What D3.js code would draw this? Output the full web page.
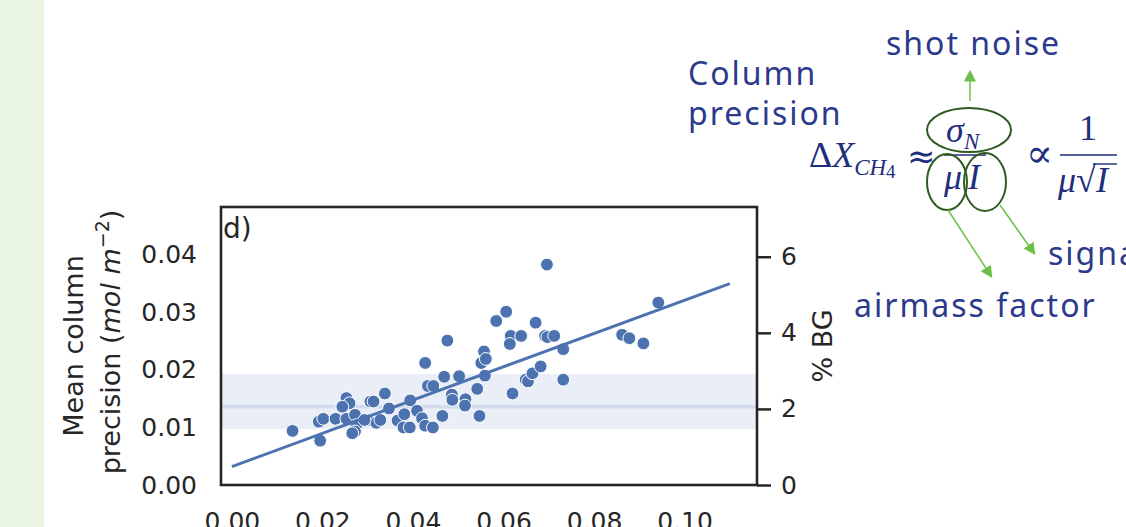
<!DOCTYPE html>
<html>
<head>
<meta charset="utf-8">
<script src="https://cdn.jsdelivr.net/npm/d3@7"></script>
<style>
  body { margin: 0; background: #fff; }
  svg { display: block; }
  .tick text { font-family: "DejaVu Sans", sans-serif; fill: #262626; }
  .note { font-family: "Noto Sans", sans-serif; fill: #2c3a8c; }
  .math { font-family: "Liberation Serif", "DejaVu Serif", serif; fill: #1f2f7e; }
</style>
</head>
<body>
<div id="chart"></div>
<script>
// ticks
const xTicks = [0, 0.02, 0.04, 0.06, 0.08, 0.10]
const yTicks = [0, 0.01, 0.02, 0.03, 0.04]
const bgTicks = [0, 2, 4, 6]
// background column (mol m-2) used for the % BG axis
const bgColumn = 0.661

// scatter: x value vs mean column precision
const precX = [0.0134, 0.0195, 0.0192, 0.0202, 0.0229, 0.0253, 0.0260, 0.0244, 0.0253, 0.0272,
  0.0275, 0.0272, 0.0266, 0.0300, 0.0306, 0.0313, 0.0319, 0.0328, 0.0338, 0.0347,
  0.0366, 0.0381, 0.0379, 0.0393, 0.0394, 0.0409, 0.0420, 0.0427, 0.0444, 0.0427,
  0.0433, 0.0445, 0.0465, 0.0469, 0.0476, 0.0486, 0.0487, 0.0502, 0.0516, 0.0515,
  0.0542, 0.0547, 0.0551, 0.0557, 0.0561, 0.0559, 0.0584, 0.0606, 0.0616, 0.0614,
  0.0639, 0.0620, 0.0649, 0.0654, 0.0664, 0.0682, 0.0671, 0.0696, 0.0692, 0.0697,
  0.0712, 0.0732, 0.0732, 0.0862, 0.0878, 0.0909, 0.0942, 0.0293]
const precY = [0.0094, 0.0077, 0.0110, 0.0115, 0.0115, 0.0151, 0.0142, 0.0136, 0.0115, 0.0122,
  0.0104, 0.0093, 0.0090, 0.0113, 0.0145, 0.0145, 0.0108, 0.0113, 0.0159, 0.0133,
  0.0112, 0.0123, 0.0100, 0.0100, 0.0147, 0.0129, 0.0116, 0.0103, 0.0100, 0.0212,
  0.0172, 0.0172, 0.0120, 0.0188, 0.0251, 0.0157, 0.0148, 0.0189, 0.0149, 0.0138,
  0.0167, 0.0120, 0.0212, 0.0232, 0.0219, 0.0190, 0.0285, 0.0301, 0.0259, 0.0245,
  0.0259, 0.0159, 0.0183, 0.0180, 0.0194, 0.0206, 0.0282, 0.0383, 0.0259, 0.0257,
  0.0259, 0.0236, 0.0183, 0.0261, 0.0255, 0.0246, 0.0317, 0.0113]

// fitted line end points
const fitX = [0, 0.11]
const fitY = [0.0032, 0.0350]
// shaded band: low, mean, high
const bandY = [0.0097, 0.0136, 0.0193]

const width = 1126
const height = 527
const blue = '#4c72b0'

let svg = d3.select('#chart')
  .append('svg')
  .attr('width', width)
  .attr('height', height)

// green strip of the slide
svg.append('rect')
  .attr('x', 0).attr('y', 0)
  .attr('width', 44).attr('height', height)
  .attr('fill', '#eaf5e2')

let x = d3.scaleLinear().domain([-0.0024, 0.116]).range([221, 757])
let y = d3.scaleLinear().domain([0, 0.0483]).range([485, 207])
let yBG = d3.scaleLinear().domain([0, 0.0483 / bgColumn * 100]).range([485, 207])

// band
svg.append('rect')
  .attr('x', x.range()[0])
  .attr('width', x.range()[1] - x.range()[0])
  .attr('y', y(bandY[2]))
  .attr('height', y(bandY[0]) - y(bandY[2]))
  .attr('fill', '#eaeef6')
svg.append('line')
  .attr('x1', x.range()[0]).attr('x2', x.range()[1])
  .attr('y1', y(bandY[1])).attr('y2', y(bandY[1]))
  .attr('stroke', '#d3dcec')
  .attr('stroke-width', 3.5)

// points
svg.append('g')
  .selectAll('circle')
  .data(precX)
  .enter()
  .append('circle')
  .attr('cx', function (d) { return x(d) })
  .attr('cy', function (d, i) { return y(precY[i]) })
  .attr('r', 6.4)
  .attr('fill', blue)
  .attr('stroke', '#fff')
  .attr('stroke-width', 1)

// regression line
svg.append('path')
  .datum(d3.zip(fitX, fitY))
  .attr('d', d3.line().x(function (d) { return x(d[0]) }).y(function (d) { return y(d[1]) }))
  .attr('stroke', blue)
  .attr('stroke-width', 2.9)
  .attr('fill', 'none')

// axes
let fmt = d3.format('.2f')
svg.append('g')
  .attr('transform', 'translate(0,485)')
  .call(d3.axisBottom(x).tickValues(xTicks).tickFormat(fmt).tickSize(0).tickPadding(27))
svg.append('g')
  .attr('transform', 'translate(221,0)')
  .call(d3.axisLeft(y).tickValues(yTicks).tickFormat(fmt).tickSize(0).tickPadding(24))
let gr = svg.append('g')
  .attr('transform', 'translate(757,0)')
  .call(d3.axisRight(yBG).tickValues(bgTicks).tickFormat(d3.format('d')).tickSize(14).tickPadding(10))
svg.selectAll('.domain').remove()
svg.selectAll('.tick text').attr('font-size', 25)
gr.selectAll('.tick line').attr('stroke', '#262626').attr('stroke-width', 2.5)

// frame
svg.append('rect')
  .attr('x', 221).attr('y', 207)
  .attr('width', 757 - 221).attr('height', 485 - 207)
  .attr('fill', 'none')
  .attr('stroke', '#262626')
  .attr('stroke-width', 2.6)

svg.append('text')
  .attr('x', 223).attr('y', 238)
  .attr('font-family', 'DejaVu Sans, sans-serif')
  .attr('font-size', 28)
  .attr('fill', '#262626')
  .text('d)')

// axis labels
svg.append('text')
  .attr('transform', 'translate(83,346) rotate(-90)')
  .attr('text-anchor', 'middle')
  .attr('font-family', 'DejaVu Sans, sans-serif')
  .attr('font-size', 27)
  .attr('fill', '#262626')
  .text('Mean column')
let lab2 = svg.append('text')
  .attr('transform', 'translate(120,342) rotate(-90)')
  .attr('text-anchor', 'middle')
  .attr('font-family', 'DejaVu Sans, sans-serif')
  .attr('font-size', 27)
  .attr('fill', '#262626')
lab2.append('tspan').text('precision (')
lab2.append('tspan').attr('font-style', 'italic').text('mol m')
lab2.append('tspan').attr('font-size', 19).attr('dy', -11).text('\u22122')
lab2.append('tspan').attr('dy', 11).text(')')

svg.append('text')
  .attr('transform', 'translate(832,346) rotate(-90)')
  .attr('text-anchor', 'middle')
  .attr('font-family', 'DejaVu Sans, sans-serif')
  .attr('font-size', 27)
  .attr('fill', '#262626')
  .text('% BG')

// annotation words
let notes = [
  ['shot noise', 886, 55],
  ['Column', 688, 85],
  ['precision', 688, 125],
  ['airmass factor', 854, 317],
  ['signal', 1048, 265]
]
svg.selectAll('.note')
  .data(notes)
  .enter()
  .append('text')
  .attr('class', 'note')
  .attr('x', function (d) { return d[1] })
  .attr('y', function (d) { return d[2] })
  .attr('font-size', 32)
  .attr('letter-spacing', 2)
  .text(function (d) { return d[0] })

// equation
let eq = svg.append('g').attr('class', 'math')
let t1 = eq.append('text').attr('x', 809).attr('y', 167).attr('font-size', 36)
t1.append('tspan').text('\u0394')
t1.append('tspan').attr('font-style', 'italic').text('X')
t1.append('tspan').attr('font-style', 'italic').attr('font-size', 23).attr('dy', 8).text('CH')
t1.append('tspan').attr('font-size', 19).attr('dy', 3).text('4')
eq.append('text').attr('x', 907).attr('y', 168).attr('font-size', 34)
  .attr('font-family', 'DejaVu Sans, sans-serif').text('\u2248')
eq.append('text').attr('x', 946).attr('y', 142).attr('font-size', 36).attr('font-style', 'italic').text('\u03c3')
eq.append('text').attr('x', 964).attr('y', 149).attr('font-size', 23).attr('font-style', 'italic').text('N')
eq.append('line').attr('x1', 944).attr('x2', 986).attr('y1', 155).attr('y2', 155)
  .attr('stroke', '#1f2f7e').attr('stroke-width', 1.6)
eq.append('text').attr('x', 944).attr('y', 189).attr('font-size', 36).attr('font-style', 'italic').text('\u03bc')
eq.append('text').attr('x', 968).attr('y', 189).attr('font-size', 36).attr('font-style', 'italic').text('I')
eq.append('text').attr('x', 1026).attr('y', 167).attr('font-size', 40)
  .attr('font-family', 'DejaVu Serif, serif').text('\u221d')
eq.append('text').attr('x', 1079).attr('y', 140).attr('font-size', 36).text('1')
eq.append('line').attr('x1', 1060).attr('x2', 1117).attr('y1', 155).attr('y2', 155)
  .attr('stroke', '#1f2f7e').attr('stroke-width', 1.6)
eq.append('text').attr('x', 1058).attr('y', 192).attr('font-size', 36).attr('font-style', 'italic').text('\u03bc')
eq.append('text').attr('x', 1076).attr('y', 192).attr('font-size', 36).text('\u221a')
eq.append('text').attr('x', 1096).attr('y', 192).attr('font-size', 36).attr('font-style', 'italic').text('I')
eq.append('line').attr('x1', 1093).attr('x2', 1117).attr('y1', 164).attr('y2', 164)
  .attr('stroke', '#1f2f7e').attr('stroke-width', 1.4)

// hand drawn circles
let ellipses = [[969, 130, 42, 22], [947, 182, 20, 28], [985, 182, 21, 29]]
svg.selectAll('.loop')
  .data(ellipses)
  .enter()
  .append('ellipse')
  .attr('class', 'loop')
  .attr('cx', function (d) { return d[0] })
  .attr('cy', function (d) { return d[1] })
  .attr('rx', function (d) { return d[2] })
  .attr('ry', function (d) { return d[3] })
  .attr('fill', 'none')
  .attr('stroke', '#2f5a20')
  .attr('stroke-width', 2)

// arrows
svg.append('defs').append('marker')
  .attr('id', 'head')
  .attr('viewBox', '0 0 10 10')
  .attr('refX', 8).attr('refY', 5)
  .attr('markerWidth', 12).attr('markerHeight', 12)
  .attr('markerUnits', 'userSpaceOnUse')
  .attr('orient', 'auto')
  .append('path')
  .attr('d', 'M0,0 L10,5 L0,10 Z')
  .attr('fill', '#6cc04a')
let arrows = [[970, 101, 970, 72], [948, 210, 991, 276], [1000, 205, 1034, 253]]
svg.selectAll('.arrow')
  .data(arrows)
  .enter()
  .append('line')
  .attr('class', 'arrow')
  .attr('x1', function (d) { return d[0] })
  .attr('y1', function (d) { return d[1] })
  .attr('x2', function (d) { return d[2] })
  .attr('y2', function (d) { return d[3] })
  .attr('stroke', '#6cc04a')
  .attr('stroke-width', 1.5)
  .attr('marker-end', 'url(#head)')
</script>
</body>
</html>
